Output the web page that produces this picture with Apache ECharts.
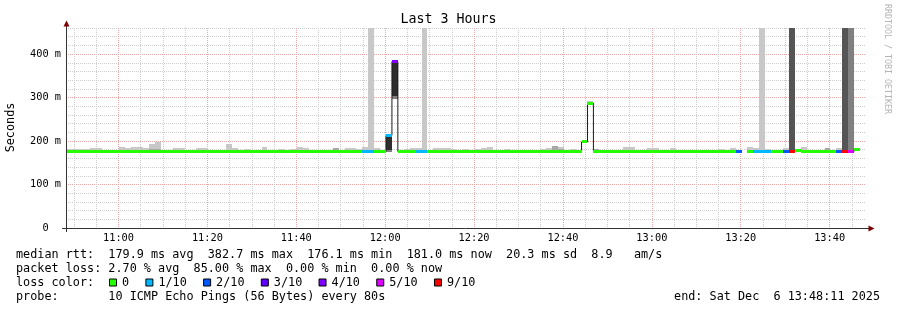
<!DOCTYPE html>
<html><head><meta charset="utf-8">
<script src="https://cdn.jsdelivr.net/npm/echarts@6/dist/echarts.min.js"></script>
<style>html,body{margin:0;padding:0;background:#fff}#c{width:897px;height:310px}</style>
</head><body><div id="c"></div>
<script>
// ---------- data ----------
const titleText = 'Last 3 Hours';
const startTime = '10:48:11';
const endTime = '13:48:11';
const stepSeconds = 80;
const xTickLabels = ['11:00','11:20','11:40','12:00','12:20','12:40','13:00','13:20','13:40'];
const yTickValues = [0, 100, 200, 300, 400];
const yMax = 460;

// median rtt per 80 s step (ms); null = no data
const medianMs = [
 176,176,176,176,176,176,176,176,176,176,
 176,176,176,176,176,176,176,176,176,176,
 176,176,176,176,176,176,176,176,176,176,
 176,176,176,176,176,176,176,176,176,176,
 176,176,176,176,176,176,176,176,176,176,
 176,176,176,176,213,382.7,176,176,176,176,
 176,176,176,176,176,176,176,176,176,176,
 176,176,176,176,176,176,176,176,176,176,
 176,176,176,176,176,176,176,198,287,176,
 176,176,176,176,176,176,176,176,176,176,
 176,176,176,176,176,176,176,176,176,176,
 176,175,176,176,null,176,176,176,176,176,
 176,176,176,178,176,176,176,176,176,175,
 176,176,176,181,null
];
// lost pings (of 10) per step
const lossCount = [
 0,0,0,0,0,0,0,0,0,0, 0,0,0,0,0,0,0,0,0,0,
 0,0,0,0,0,0,0,0,0,0, 0,0,0,0,0,0,0,0,0,0,
 0,0,0,0,0,0,0,0,0,0, 1,1,0,0,1,4,0,0,0,1,
 1,0,0,0,0,0,0,0,0,0, 0,0,0,0,0,0,0,0,0,0,
 0,0,0,0,0,0,0,0,0,0, 0,0,0,0,0,0,0,0,0,0,
 0,0,0,0,0,0,0,0,0,0, 0,0,0,2,0,0,1,1,1,0,
 0,2,9,0,0,0,0,0,0,0, 2,9,5,0,0
];
// smoke (ping spread) blocks: step index, low ms, high ms, ping density (1 = sparse .. 5 = dense)
const smokeStep    = [0,1,2,3,4,5,9,10,11,12,13,14,15,14,15,18,19,22,23,27,28,27,28,30,33,36,38,39,40,45,47,48,49,50,51,52,54,54,55,55,57,58,59,60,62,63,64,65,67,69,70,71,74,80,81,82,83,83,85,87,88,89,94,95,98,99,102,110,112,115,116,117,118,121,122,124,128,130,131,132];
const smokeLow     = [176,176,176,176,176,176,176,176,176,176,176,176,176,176,176,176,176,176,176,176,176,176,176,176,176,176,176,176,176,176,176,176,176,176,176,176,174,179,296,304,176,176,176,176,176,176,176,176,176,176,176,176,176,176,176,176,176,176,176,198,287,176,176,176,176,176,176,176,176,176,176,176,176,176,176,176,176,176,176,176];
const smokeHigh    = [181,181,181,181,184,184,186,184,186,186,184,193,198,181,181,184,184,184,184,193,184,180,180,181,186,181,181,186,184,184,184,184,181,186,600,184,179,210,304,381,181,184,184,600,184,184,184,181,181,181,184,187,181,181,184,188,186,181,181,202,291,181,186,186,184,184,184,181,184,186,184,600,181,184,600,186,184,184,600,600];
const smokeDensity = [1,1,1,1,1,1,1,1,1,1,1,1,1,2,2,1,1,1,1,1,1,2,2,1,1,1,1,1,1,2,1,1,1,1,1,1,3,5,3,5,1,1,1,1,1,1,1,1,1,1,1,1,1,1,1,2,1,2,1,1,1,2,1,1,1,1,1,1,1,1,1,1,1,1,4,1,2,1,4,3];

const lossLevels = [0, 1, 2, 3, 4, 5, 9];
const lossLabels = ['0', '1/10', '2/10', '3/10', '4/10', '5/10', '9/10'];
const lossColors = ['#26ff00', '#00b8ff', '#0059ff', '#5e00ff', '#7e00ff', '#dd00ff', '#ff0000'];

const statLines = [
  'median rtt:  179.9 ms avg  382.7 ms max  176.1 ms min  181.0 ms now  20.3 ms sd  8.9   am/s',
  'packet loss: 2.70 % avg  85.00 % max  0.00 % min  0.00 % now'
];
const lossColorLabel = 'loss color:';
const probeLine = 'probe:       10 ICMP Echo Pings (56 Bytes) every 80s';
const endLine = 'end: Sat Dec  6 13:48:11 2025';
const yAxisName = 'Seconds';
const watermark = 'RRDTOOL / TOBI OETIKER';

// ---------- helpers ----------
const toSec = s => { const p = s.split(':').map(Number); return p[0]*3600 + p[1]*60 + (p[2]||0); };
const fmtHM = v => String(Math.floor(v/3600)).padStart(2,'0') + ':' + String(Math.floor(v%3600/60)).padStart(2,'0');
const t0 = toSec(startTime), tEnd = toSec(endTime);
const densityColor = {1:'#c8c8c8', 2:'#a8a8a8', 3:'#808080', 4:'#555555', 5:'#2e2e2e'};
function lossColor(n){ let c = lossColors[0]; lossLevels.forEach((l,i)=>{ if(n>=l) c = lossColors[i]; }); return c; }

const majorX = xTickLabels.map(toSec);
const minorX = [];
for (let s = Math.ceil(t0/300)*300; s <= tEnd; s += 300) if (majorX.indexOf(s) < 0) minorX.push(s);
const minorY = [];
for (let v = 20; v <= yMax; v += 20) if (yTickValues.indexOf(v) < 0) minorY.push(v);

const smokeData = smokeStep.map((k,i)=>[t0+k*stepSeconds, t0+(k+1)*stepSeconds, smokeLow[i], smokeHigh[i], smokeDensity[i]]);
const bandData = [];
const lineData = [];
medianMs.forEach((m,k)=>{
  const a = t0+k*stepSeconds, b = a+stepSeconds;
  if (m == null) { lineData.push([a, null]); return; }
  bandData.push([a, b, m, lossCount[k]]);
  lineData.push([a, m]); lineData.push([b, m]);
});

// ---------- chart ----------
const chart = echarts.init(document.getElementById('c'), null, {renderer:'canvas'});
const mono = '"DejaVu Sans Mono", monospace';
const legendFs = 11.8, cw = legendFs*0.602;

const graphics = [];
const txt = (x,y,text,size,opts={}) => graphics.push(Object.assign({type:'text', x, y, z:100, silent:true,
  style:{text, font: size+'px '+mono, fill: opts.fill||'#000', align: opts.align||'left', verticalAlign:'middle'}}, opts.rot!=null?{rotation:opts.rot}:{}));

txt(448.5, 20, titleText, 13.3, {align:'center'});
txt(11, 127.5, yAxisName, 11.8, {align:'center', rot: Math.PI/2});
txt(887.5, 59, watermark, 8.3, {align:'center', rot: -Math.PI/2, fill:'#b4b4b4'});
const lineY = [255, 269, 283, 297];
statLines.forEach((s,i)=>txt(16, lineY[i], s, legendFs));
txt(16, lineY[2], lossColorLabel, legendFs);
let bx = 109;
lossLabels.forEach((lab,i)=>{
  graphics.push({type:'rect', z:100, silent:true, shape:{x:bx+0.5, y:lineY[2]-4, width:7, height:7},
    style:{fill:lossColors[i], stroke:'#000', lineWidth:1}});
  const lx = bx + 13;
  txt(lx, lineY[2], lab, legendFs);
  bx = lx + lab.length*cw + 16.3;
});
txt(16, lineY[3], probeLine, legendFs);
txt(880, lineY[3], endLine, legendFs, {align:'right'});
// axes with rrdtool-style arrows
graphics.push({type:'line', z:100, silent:true, shape:{x1:66.5, y1:232, x2:66.5, y2:24}, style:{stroke:'#333', lineWidth:1}});
graphics.push({type:'line', z:100, silent:true, shape:{x1:62, y1:228.5, x2:869, y2:228.5}, style:{stroke:'#333', lineWidth:1}});
graphics.push({type:'polygon', z:100, silent:true, shape:{points:[[66.5,20.5],[63.5,26.5],[69.5,26.5]]}, style:{fill:'#7f0000'}});
graphics.push({type:'polygon', z:100, silent:true, shape:{points:[[874.5,228.5],[868.5,225.5],[868.5,231.5]]}, style:{fill:'#7f0000'}});

const axisFont = {fontFamily: mono, fontSize: 10.3, color:'#000'};
const minorLine = {show:true, lineStyle:{color:'#cdcdcd', type:'dotted', width:1}};
const majorLine = {show:true, lineStyle:{color:'#f2a6a6', type:'dotted', width:1}};

chart.setOption({
  animation:false,
  backgroundColor:'#fff',
  grid:{left:66, right:31, top:28, bottom:82, containLabel:false},
  xAxis:[
    {type:'value', min:t0, max:tEnd, axisLine:{show:false}, axisTick:{show:false, customValues:minorX},
     axisLabel:{show:false}, splitLine:minorLine},
    {type:'value', min:t0, max:tEnd, position:'bottom', axisLine:{show:false}, axisTick:{show:false, customValues:majorX},
     axisLabel:Object.assign({customValues:majorX, formatter:fmtHM, margin:5}, axisFont), splitLine:majorLine}
  ],
  yAxis:[
    {type:'value', min:0, max:yMax, axisLine:{show:false}, axisTick:{show:false, customValues:minorY},
     axisLabel:{show:false}, splitLine:minorLine},
    {type:'value', min:0, max:yMax, position:'left', axisLine:{show:false}, axisTick:{show:false, customValues:yTickValues},
     axisLabel:Object.assign({customValues:yTickValues, margin:5, formatter:v=> v===0 ? '0  ' : v+' m'}, axisFont),
     splitLine:majorLine}
  ],
  graphic: graphics,
  series:[
    {type:'custom', name:'smoke', xAxisIndex:1, yAxisIndex:1, z:2, data:smokeData,
     encode:{x:[0,1], y:[2,3]},
     renderItem:(params, api)=>{
       const a = api.coord([api.value(0), api.value(2)]);
       const b = api.coord([api.value(1), Math.min(api.value(3), yMax)]);
       const x0 = Math.round(a[0]), x1 = Math.round(b[0]);
       const yTop = Math.round(b[1]), yBot = Math.round(a[1]);
       return {type:'rect', shape:{x:x0, y:yTop, width:x1-x0, height:Math.max(1,yBot-yTop)},
         style:{fill: densityColor[api.value(4)]}};
     }},
    {type:'line', name:'median', xAxisIndex:1, yAxisIndex:1, z:3, data:lineData, showSymbol:false, symbol:'none',
     connectNulls:false, lineStyle:{color:'#1a1a1a', width:1}, silent:true},
    {type:'custom', name:'loss', xAxisIndex:1, yAxisIndex:1, z:4, data:bandData,
     encode:{x:[0,1], y:2},
     renderItem:(params, api)=>{
       const a = api.coord([api.value(0), api.value(2)]);
       const b = api.coord([api.value(1), api.value(2)]);
       const x0 = Math.round(a[0]), x1 = Math.round(b[0]);
       const y = Math.round(a[1]-1.5);
       return {type:'rect', shape:{x:x0, y:y, width:x1-x0, height:3}, style:{fill: lossColor(api.value(3))}};
     }}
  ]
});
</script></body></html>
